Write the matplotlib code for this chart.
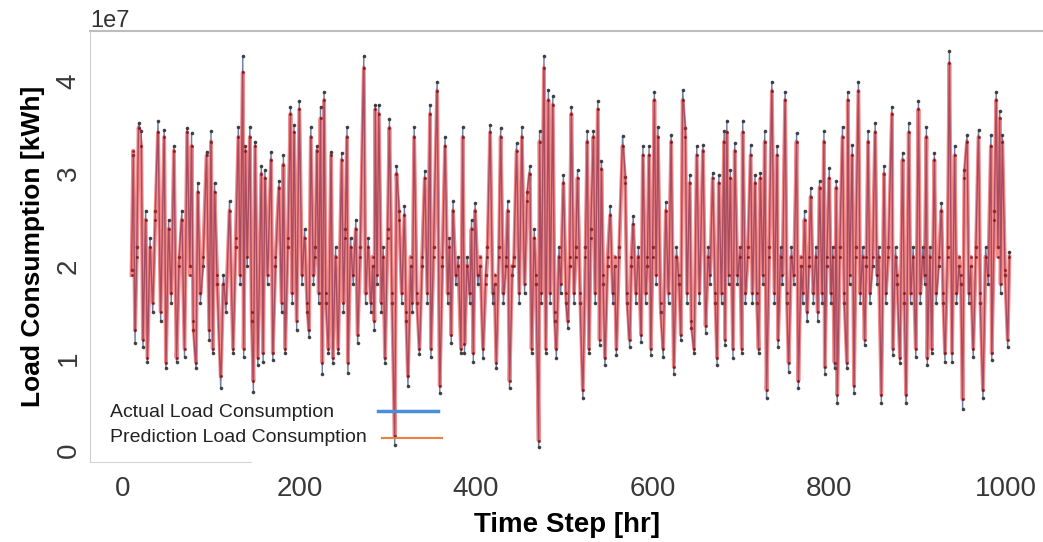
import numpy as np
import matplotlib
matplotlib.use("Agg")
import matplotlib.pyplot as plt

plt.rcParams['font.family'] = ['Liberation Sans', 'DejaVu Sans']

# time step [hr]
hours = [
    10, 12, 14, 16, 18, 21, 23, 26, 28, 31,
    34, 37, 40, 43, 47, 49, 52, 55, 58, 61,
    64, 67, 70, 73, 76, 78, 80, 83, 85, 88,
    91, 95, 98, 100, 102, 104, 107, 111, 114, 117,
    121, 125, 128, 131, 133, 136, 137, 139, 141, 144,
    146, 148, 150, 153, 157, 159, 161, 164, 168, 170,
    173, 177, 180, 182, 184, 187, 190, 192, 194, 197,
    200, 203, 206, 209, 211, 213, 216, 218, 220, 222,
    224, 226, 228, 230, 233, 236, 238, 241, 244, 248,
    250, 252, 254, 255, 258, 261, 264, 266, 269, 273,
    275, 278, 281, 283, 285, 286, 288, 290, 293, 295,
    297, 300, 302, 305, 308, 310, 313, 316, 319, 321,
    323, 326, 328, 330, 333, 336, 339, 342, 345, 348,
    349, 352, 356, 359, 362, 365, 368, 370, 372, 374,
    377, 380, 383, 385, 387, 390, 393, 395, 397, 399,
    402, 405, 408, 411, 413, 416, 419, 421, 423, 426,
    428, 431, 434, 436, 438, 441, 443, 446, 449, 452,
    455, 458, 461, 463, 466, 468, 471, 472, 474, 477,
    479, 482, 484, 487, 489, 491, 494, 496, 499, 502,
    504, 506, 508, 511, 513, 515, 518, 521, 524, 526,
    528, 530, 533, 535, 538, 540, 542, 544, 546, 549,
    552, 555, 557, 559, 562, 566, 569, 571, 574, 576,
    578, 581, 584, 587, 589, 592, 594, 596, 598, 600,
    602, 604, 606, 609, 612, 615, 618, 621, 624, 627,
    630, 632, 634, 637, 639, 642, 644, 647, 650, 653,
    657, 660, 663, 665, 668, 671, 673, 675, 678, 681,
    682, 684, 686, 688, 691, 693, 696, 699, 701, 702,
    705, 708, 711, 713, 716, 718, 720, 722, 725, 727,
    729, 732, 735, 738, 741, 742, 745, 747, 750, 752,
    754, 757, 760, 763, 765, 768, 770, 772, 775, 777,
    779, 782, 785, 787, 789, 792, 794, 795, 797, 800,
    802, 804, 806, 808, 809, 812, 815, 817, 820, 821,
    823, 826, 828, 830, 833, 835, 838, 840, 842, 844,
    846, 849, 852, 854, 856, 859, 862, 864, 867, 871,
    872, 875, 877, 880, 883, 885, 887, 890, 892, 895,
    898, 901, 903, 906, 908, 910, 911, 914, 916, 919,
    921, 924, 927, 929, 931, 934, 936, 939, 942, 944,
    947, 949, 951, 953, 956, 958, 960, 963, 966, 969,
    971, 974, 977, 980, 983, 984, 987, 989, 991, 993,
    994, 996, 999, 1002, 1004,
]

# load consumption, units of 1e7 kWh
actual = [
    1.95, 3.2, 1.16, 2.2, 3.55, 3.46, 1.12, 2.6, 0.96, 2.3,
    1.5, 2.6, 3.57, 1.4, 3.48, 0.89, 2.5, 1.6, 3.3, 0.96,
    2.1, 2.6, 1.01, 3.5, 2.0, 3.44, 1.3, 0.89, 2.9, 1.6,
    2.0, 3.24, 1.2, 3.46, 1.05, 2.9, 1.8, 0.67, 1.9, 1.5,
    2.7, 1.05, 2.2, 3.51, 1.8, 4.28, 1.01, 3.3, 2.0, 3.51,
    1.4, 0.63, 3.35, 0.92, 3.08, 0.96, 3.04, 1.8, 3.24, 0.98,
    2.0, 2.92, 1.5, 3.2, 1.05, 2.2, 3.73, 1.6, 3.53, 1.3,
    3.79, 1.8, 2.4, 1.5, 1.23, 3.51, 1.8, 2.2, 3.3, 1.6,
    3.73, 0.83, 3.89, 1.6, 1.05, 3.24, 0.94, 2.2, 1.05, 3.23,
    1.5, 2.4, 3.51, 0.84, 2.3, 1.8, 2.5, 1.16, 2.2, 4.28,
    1.6, 2.3, 1.5, 2.0, 1.3, 3.75, 1.8, 3.75, 1.5, 2.2,
    0.94, 2.4, 3.59, 1.6, 0.05, 3.08, 2.6, 1.6, 2.65, 1.4,
    0.69, 2.0, 1.5, 3.51, 1.6, 1.04, 2.0, 3.03, 1.6, 3.75,
    1.01, 2.2, 4.0, 0.62, 2.0, 3.4, 1.6, 2.3, 1.16, 2.7,
    1.8, 2.1, 1.05, 3.51, 1.05, 2.1, 1.6, 2.5, 0.96, 2.68,
    1.8, 2.0, 1.0, 1.9, 2.2, 3.53, 1.6, 1.8, 0.89, 2.2,
    3.5, 1.6, 2.0, 2.7, 0.67, 1.9, 2.1, 3.33, 1.6, 3.51,
    1.7, 2.8, 3.08, 1.05, 2.4, 1.8, 0.03, 3.46, 1.6, 4.28,
    1.05, 3.91, 1.6, 3.84, 1.4, 1.0, 2.2, 1.7, 2.99, 1.6,
    1.33, 2.0, 3.73, 1.6, 2.2, 3.04, 1.6, 0.56, 2.2, 3.46,
    1.05, 2.4, 3.46, 1.6, 3.79, 1.14, 3.14, 1.8, 0.92, 2.0,
    2.65, 1.6, 2.0, 1.03, 2.2, 3.41, 2.97, 1.6, 1.12, 2.0,
    2.54, 1.6, 2.2, 1.17, 3.3, 1.6, 2.0, 3.3, 1.03, 2.2,
    3.89, 1.8, 3.51, 1.5, 1.01, 2.69, 1.6, 3.42, 0.83, 2.2,
    1.8, 1.19, 3.91, 3.5, 1.6, 2.99, 1.33, 1.05, 3.3, 1.6,
    3.31, 1.27, 2.2, 1.8, 3.01, 1.6, 0.92, 2.99, 1.6, 3.46,
    1.14, 3.57, 1.8, 3.04, 1.0, 3.33, 1.8, 2.2, 1.05, 3.57,
    1.6, 2.2, 3.31, 1.6, 2.99, 1.6, 1.05, 3.01, 1.8, 3.46,
    0.56, 2.2, 4.0, 1.6, 3.3, 1.12, 2.2, 1.8, 3.89, 1.6,
    0.85, 2.2, 1.8, 3.44, 0.67, 2.0, 1.6, 2.6, 1.4, 2.0,
    2.85, 1.6, 2.2, 1.4, 2.92, 1.6, 3.46, 0.83, 2.0, 3.06,
    1.6, 2.2, 0.89, 2.92, 0.51, 2.2, 3.51, 1.6, 0.89, 3.89,
    1.8, 3.31, 0.62, 2.2, 4.0, 1.6, 2.2, 1.14, 2.0, 3.46,
    1.6, 2.0, 3.55, 1.8, 2.2, 0.51, 3.08, 1.6, 2.2, 3.73,
    1.03, 2.2, 1.8, 0.94, 3.23, 1.6, 0.51, 3.55, 1.6, 2.2,
    1.01, 3.79, 1.6, 2.2, 1.8, 3.51, 0.92, 2.2, 1.05, 3.23,
    1.6, 2.0, 2.68, 1.6, 0.96, 2.2, 4.33, 0.96, 3.3, 1.6,
    2.0, 1.8, 0.45, 3.04, 3.42, 1.6, 2.0, 1.01, 2.2, 3.48,
    1.6, 0.56, 2.2, 1.8, 3.42, 0.98, 2.6, 3.89, 2.2, 3.68,
    1.7, 3.42, 1.9, 1.12, 2.15,
]

predicted = [
    1.9, 3.25, 1.3, 2.1, 3.5, 3.3, 1.2, 2.5, 1.0, 2.2,
    1.6, 2.5, 3.45, 1.5, 3.4, 0.95, 2.4, 1.7, 3.25, 1.0,
    2.0, 2.5, 1.1, 3.45, 1.9, 3.3, 1.4, 0.95, 2.8, 1.7,
    2.1, 3.2, 1.3, 3.35, 1.1, 2.8, 1.9, 0.8, 1.8, 1.6,
    2.6, 1.1, 2.3, 3.4, 1.9, 4.1, 1.1, 3.25, 2.1, 3.4,
    1.5, 0.75, 3.3, 1.0, 3.0, 1.05, 2.95, 1.9, 3.15, 1.05,
    2.1, 2.85, 1.6, 3.1, 1.1, 2.3, 3.65, 1.7, 3.45, 1.4,
    3.7, 1.9, 2.3, 1.6, 1.3, 3.4, 1.9, 2.1, 3.25, 1.7,
    3.6, 0.95, 3.8, 1.7, 1.1, 3.2, 1.0, 2.1, 1.1, 3.15,
    1.6, 2.3, 3.4, 0.95, 2.2, 1.9, 2.4, 1.25, 2.1, 4.15,
    1.7, 2.2, 1.6, 2.1, 1.4, 3.7, 1.9, 3.65, 1.6, 2.1,
    1.0, 2.3, 3.5, 1.7, 0.15, 3.0, 2.5, 1.7, 2.55, 1.5,
    0.8, 2.1, 1.6, 3.4, 1.7, 1.1, 2.1, 2.95, 1.7, 3.65,
    1.1, 2.1, 3.9, 0.7, 2.1, 3.3, 1.7, 2.2, 1.25, 2.6,
    1.9, 2.0, 1.1, 3.4, 1.15, 2.0, 1.7, 2.4, 1.05, 2.6,
    1.9, 2.1, 1.1, 1.8, 2.1, 3.45, 1.7, 1.9, 0.95, 2.1,
    3.4, 1.7, 2.1, 2.6, 0.75, 2.0, 2.0, 3.25, 1.7, 3.4,
    1.8, 2.7, 3.0, 1.1, 2.3, 1.9, 0.1, 3.35, 1.7, 4.15,
    1.1, 3.8, 1.7, 3.75, 1.5, 1.1, 2.1, 1.8, 2.9, 1.7,
    1.4, 2.1, 3.65, 1.7, 2.1, 2.95, 1.7, 0.65, 2.1, 3.35,
    1.1, 2.3, 3.4, 1.7, 3.7, 1.2, 3.05, 1.9, 1.0, 2.1,
    2.55, 1.7, 2.1, 1.1, 2.1, 3.3, 2.9, 1.7, 1.2, 2.1,
    2.45, 1.7, 2.1, 1.25, 3.2, 1.7, 2.1, 3.2, 1.1, 2.1,
    3.8, 1.9, 3.4, 1.6, 1.1, 2.6, 1.7, 3.35, 0.9, 2.1,
    1.9, 1.25, 3.8, 3.4, 1.7, 2.9, 1.4, 1.1, 3.2, 1.7,
    3.25, 1.35, 2.1, 1.9, 2.95, 1.7, 1.0, 2.9, 1.7, 3.35,
    1.2, 3.45, 1.9, 2.95, 1.1, 3.25, 1.9, 2.1, 1.1, 3.45,
    1.7, 2.1, 3.2, 1.7, 2.9, 1.7, 1.1, 2.95, 1.9, 3.35,
    0.65, 2.1, 3.9, 1.7, 3.2, 1.2, 2.1, 1.9, 3.8, 1.7,
    0.95, 2.1, 1.9, 3.35, 0.75, 2.1, 1.7, 2.5, 1.5, 2.1,
    2.75, 1.7, 2.1, 1.5, 2.85, 1.7, 3.35, 0.9, 2.1, 2.95,
    1.7, 2.1, 0.95, 2.85, 0.6, 2.1, 3.4, 1.7, 0.95, 3.8,
    1.9, 3.2, 0.7, 2.1, 3.9, 1.7, 2.1, 1.2, 2.1, 3.35,
    1.7, 2.1, 3.45, 1.9, 2.1, 0.6, 3.0, 1.7, 2.1, 3.65,
    1.1, 2.1, 1.9, 1.0, 3.15, 1.7, 0.6, 3.45, 1.7, 2.1,
    1.1, 3.7, 1.7, 2.1, 1.9, 3.4, 1.0, 2.1, 1.1, 3.15,
    1.7, 2.1, 2.6, 1.7, 1.05, 2.1, 4.2, 1.05, 3.2, 1.7,
    2.1, 1.9, 0.55, 2.95, 3.35, 1.7, 2.1, 1.1, 2.1, 3.4,
    1.7, 0.65, 2.1, 1.9, 3.3, 1.05, 2.5, 3.8, 2.1, 3.6,
    1.8, 3.35, 1.95, 1.2, 2.1,
]

labels = ['Actual Load Consumption', 'Prediction Load Consumption']

x = np.array(hours)
y_act = np.array(actual) * 1e7
y_pred = np.array(predicted) * 1e7

fig = plt.figure(figsize=(10.43, 5.42), dpi=100)
ax = fig.add_axes([90 / 1043, 80 / 542, 953 / 1043, 431 / 542])

ax.plot(x, y_act, color='#4f6b99', lw=1.0, alpha=0.85,
        marker='o', ms=1.6, mfc='#333333', mec='#333333')
ax.plot(x, y_pred, color='#e81818', lw=2.8, alpha=0.5,
        marker='o', ms=1.3, mfc='#6a0000', mec='#6a0000')

ax.set_xlim(-37, 1042)
ax.set_ylim(-0.13e7, 4.55e7)
ax.set_xticks([0, 200, 400, 600, 800, 1000])
ax.set_yticks([0, 1e7, 2e7, 3e7, 4e7])

ax.tick_params(length=0, labelsize=20, labelcolor='#383838')
ax.tick_params(axis='x', pad=10)
ax.tick_params(axis='y', pad=6)
plt.setp(ax.get_yticklabels(), rotation=90, va='center')
ax.yaxis.get_offset_text().set_fontsize(17)
ax.yaxis.get_offset_text().set_color('#333333')

ax.spines['right'].set_visible(False)
ax.spines['top'].set_color('#bdbdbd')
ax.spines['top'].set_linewidth(1.5)
ax.spines['left'].set_color('#cfcfcf')
ax.spines['bottom'].set_color('#d5d5d5')
ax.spines['bottom'].set_bounds(-37, 145)

ax.set_xlabel('Time Step [hr]', fontsize=20, fontweight='bold', labelpad=7)
ax.set_ylabel('Load Consumption [kWh]', fontsize=19, fontweight='bold', labelpad=8)

# legend: label text on the left, sample line on the right
ax.text(0.021, 0.114, labels[0], transform=ax.transAxes, fontsize=14,
        color='#222222', va='center', ha='left')
ax.text(0.021, 0.058, labels[1], transform=ax.transAxes, fontsize=14,
        color='#222222', va='center', ha='left')
ax.plot([0.302, 0.365], [0.118, 0.118], transform=ax.transAxes,
        color='#4a8fd8', lw=2.5, clip_on=False)
ax.plot([0.306, 0.369], [0.056, 0.056], transform=ax.transAxes,
        color='#ec8040', lw=1.5, clip_on=False)

fig.savefig('out.png', dpi=100)
